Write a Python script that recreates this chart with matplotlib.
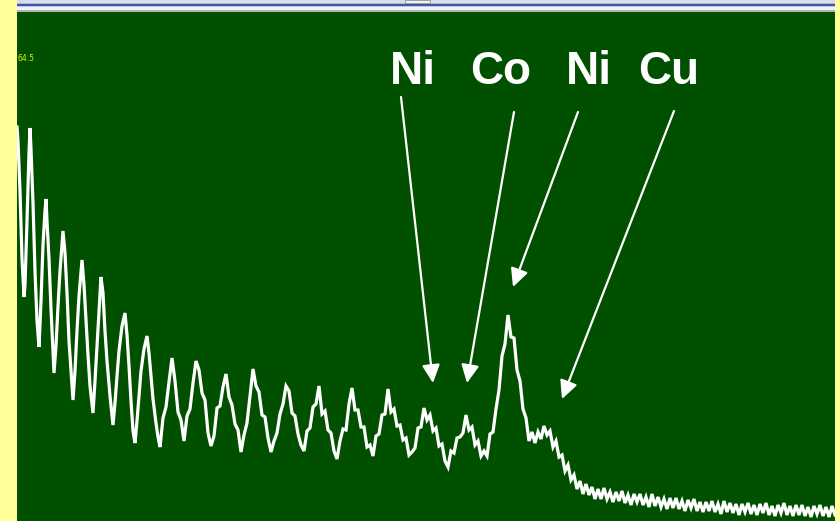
import numpy as np
import matplotlib
matplotlib.use("Agg")
import matplotlib.pyplot as plt
from matplotlib.patches import Rectangle

# ---- spectrum data (channel, counts) ----
# low-energy region, sampled at its turning points
channels_low = [0, 1, 3, 5, 7, 8, 10, 12, 13, 14, 16, 18, 20, 22, 24, 26, 28, 29, 30, 32,
                34, 37, 39, 41, 43, 46, 48, 50, 52, 54, 56, 58, 60, 62, 65, 67, 69, 71, 73, 76,
                78, 80, 82, 84, 86, 88, 90, 93, 96, 98, 100, 102, 105, 108, 110, 112, 114, 116, 118, 120,
                122, 124, 127, 130, 132, 134, 136, 139, 141, 143]
counts_low = [394, 380, 330, 262, 224, 236, 300, 368, 393, 372, 318, 250, 200, 174, 220, 276, 310, 322, 300, 262,
              212, 148, 175, 215, 250, 290, 268, 228, 180, 150, 121, 150, 190, 225, 261, 236, 200, 166, 135, 108,
              140, 175, 210, 244, 228, 190, 160, 125, 96, 118, 145, 170, 195, 208, 186, 155, 120, 90, 78, 100,
              125, 150, 172, 185, 168, 145, 122, 98, 84, 74]

# remaining channels, every third channel
channels_high = np.arange(146, 819, 3)
counts_high = [103, 114, 139, 163, 140, 109, 101, 80, 105, 112,
               138, 160, 151, 128, 121, 88, 75, 85, 113, 115,
               134, 147, 124, 116, 97, 91, 69, 86, 98, 125,
               152, 135, 129, 106, 104, 83, 69, 80, 88, 107,
               117, 135, 130, 108, 105, 87, 76, 70, 90, 93,
               114, 117, 135, 107, 110, 91, 88, 70, 62, 80,
               92, 91, 117, 133, 111, 111, 94, 94, 74, 76,
               65, 85, 87, 106, 107, 132, 109, 112, 95, 96,
               81, 83, 66, 69, 73, 93, 94, 113, 101, 106,
               90, 93, 75, 77, 60, 54, 70, 68, 83, 84,
               88, 106, 91, 94, 76, 80, 65, 70, 65, 87,
               89, 112, 131, 165, 177, 206, 184, 183, 151, 140,
               112, 103, 80, 89, 78, 89, 82, 95, 86, 90,
               74, 80, 64, 66, 50, 56, 41, 46, 32, 40,
               27, 37, 26, 34, 22, 32, 22, 33, 22, 29,
               19, 29, 20, 30, 18, 26, 16, 27, 19, 27,
               16, 24, 14, 27, 15, 24, 14, 22, 12, 23,
               13, 23, 12, 20, 10, 21, 13, 22, 10, 19,
               9, 19, 10, 20, 9, 17, 7, 20, 9, 18,
               8, 17, 6, 17, 9, 18, 7, 16, 6, 17,
               8, 18, 6, 15, 5, 16, 8, 18, 6, 15,
               5, 16, 6, 16, 5, 14, 4, 15, 7, 16,
               5, 14, 4, 15, 6]

channels = np.concatenate([channels_low, channels_high])
counts = np.concatenate([counts_low, counts_high])

# element labels: text, arrow tip (channel, counts), label centre, arrow tail
labels = ["Ni", "Co", "Ni", "Cu"]
tips = [(416, 138), (450, 138), (496, 234), (545, 122)]
label_pos = [(396, 449), (484, 449), (572, 449), (652, 449)]
tails = [(384, 424), (497, 409), (561, 409), (657, 410)]

FULL_SCALE = "64.5"

W, H = 840, 521
fig = plt.figure(figsize=(W / 100, H / 100), dpi=100)
fig.patch.set_facecolor("#FFFF99")


def frac(x0, y0, x1, y1):
    """pixel box (top-left origin) -> figure fraction rectangle args"""
    return (x0 / W, 1 - y1 / H), (x1 - x0) / W, (y1 - y0) / H


# window title bar strip above the plot
bars = [(0, 3, "#DCDCE6"), (3, 4, "#A4BCEC"), (4, 6, "#3A58A6"),
        (6, 7, "#B4CAF0"), (7, 10, "#F2F2F2"), (10, 12, "#B4B4B4")]
for y0, y1, c in bars:
    xy, w, h = frac(17, y0, 835, y1)
    fig.add_artist(Rectangle(xy, w, h, transform=fig.transFigure,
                             facecolor=c, edgecolor="none"))
xy, w, h = frac(405, 0, 430, 3)
fig.add_artist(Rectangle(xy, w, h, transform=fig.transFigure,
                         facecolor="#F4F4F4", edgecolor="#909090", lw=0.6))

ax = fig.add_axes([17 / W, 0, 818 / W, 509 / H])
ax.set_facecolor("#005000")
ax.plot(channels, counts, color="white", lw=2.3, solid_joinstyle="miter")
ax.set_xlim(0, 818)
ax.set_ylim(0, 509)
ax.set_xticks([])
ax.set_yticks([])
for s in ax.spines.values():
    s.set_visible(False)

ax.text(0.001, 0.908, FULL_SCALE, transform=ax.transAxes, color="#E8E800",
        fontsize=5.5, ha="left", va="center")

for lab, tip, pos, tail in zip(labels, tips, label_pos, tails):
    ax.text(pos[0], pos[1], lab, color="white", fontsize=33, fontweight="bold",
            family="Liberation Sans", ha="center", va="center")
    ax.annotate("", xy=tip, xytext=tail,
                arrowprops=dict(arrowstyle="-|>,head_length=0.55,head_width=0.27",
                                mutation_scale=20, color="white", lw=1.6,
                                shrinkA=0, shrinkB=0))

fig.savefig("out.png", dpi=100, facecolor=fig.get_facecolor())
